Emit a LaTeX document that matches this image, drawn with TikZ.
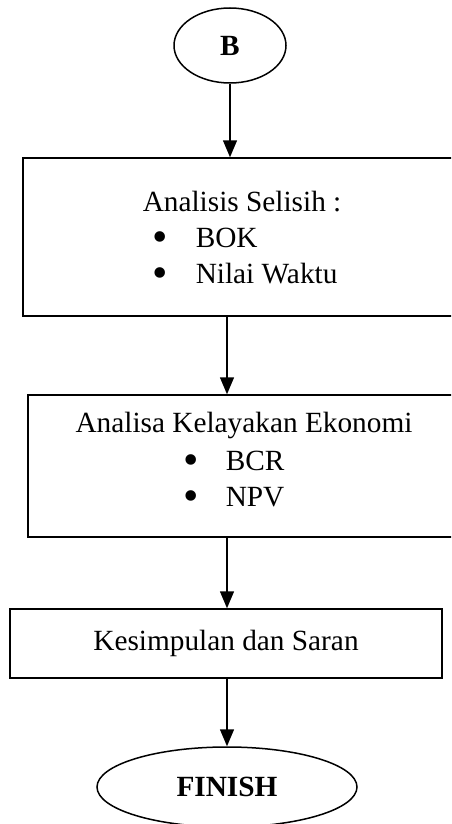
\documentclass[tikz,border=0pt]{standalone}
\usepackage{fontspec}
\setmainfont{Liberation Serif}
\usetikzlibrary{shapes.geometric,arrows.meta}
\newcommand{\blt}{\raisebox{-0.17em}[0pt][0pt]{\scalebox{1.5}{\textbullet}}}

\begin{document}
\begin{tikzpicture}[x=1pt, y=-1pt, line width=1.5pt,
    font=\fontsize{29.3pt}{36pt}\selectfont,
    terminal/.style={draw, ellipse, inner sep=0pt, font=\fontsize{29.3pt}{36pt}\selectfont\bfseries},
    process/.style={draw, rectangle, inner sep=0pt},
    flow/.style={-{Triangle[length=17pt,width=14pt]}}]
  \clip (0,0) rectangle (451,824);
  % start and end
  \node[terminal, minimum width=112pt, minimum height=75pt] (b) at (230,45.5) {B};
  \node[terminal, minimum width=260pt, minimum height=80pt] (finish) at (227,787) {FINISH};
  % steps
  \node[process, minimum width=447pt, minimum height=158pt] (selisih) at (246.5,237) {};
  \node[anchor=base west, inner sep=0pt] (selisihtext) at (142,211)
    {\begin{tabular}[t]{@{}l@{}}Analisis Selisih :\\
      \hspace*{10pt}\makebox[43pt][l]{\blt}BOK\\
      \hspace*{10pt}\makebox[43pt][l]{\blt}Nilai Waktu\end{tabular}};
  \node[process, minimum width=432pt, minimum height=142pt] (ekonomi) at (244,466) {};
  \node[anchor=base, inner sep=0pt] (ekonomititle) at (244,432) {Analisa Kelayakan Ekonomi};
  \node[anchor=base west, inner sep=0pt] (ekonomitext) at (183,470)
    {\begin{tabular}[t]{@{}l@{}}\makebox[42pt][l]{\blt}BCR\\
      \makebox[42pt][l]{\blt}NPV\end{tabular}};
  \node[process, minimum width=432pt, minimum height=69pt] (saran) at (226,643.5) {Kesimpulan dan Saran};
  % arrows
  \draw[flow] (b) -- (b |- selisih.north);
  \draw[flow] (selisih.south -| finish) -- (ekonomi.north -| finish);
  \draw[flow] (ekonomi.south -| finish) -- (saran.north -| finish);
  \draw[flow] (saran.south -| finish) -- (finish);
\end{tikzpicture}
\end{document}
